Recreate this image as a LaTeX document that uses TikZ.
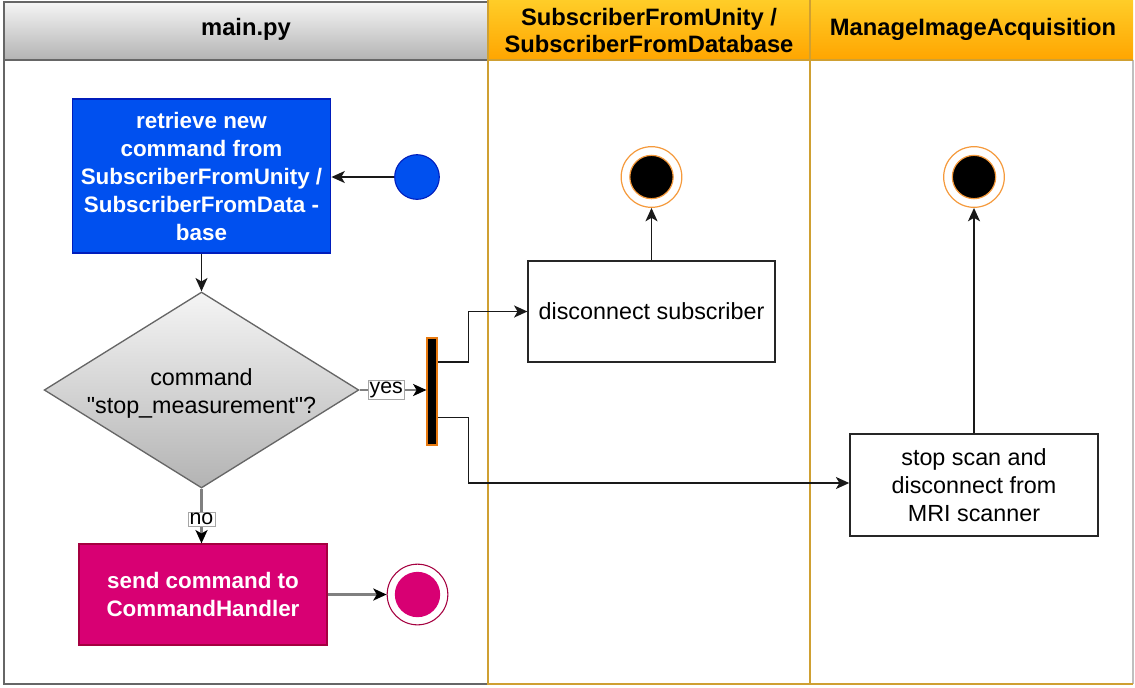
\documentclass[tikz,border=0pt]{standalone}
\usepackage{fontspec}
\setmainfont{Liberation Sans}
\usetikzlibrary{arrows.meta,shapes.geometric,calc}

\definecolor{laneGray}{HTML}{666666}
\definecolor{laneGold}{HTML}{CFA032}
\definecolor{headGrayTop}{HTML}{F5F5F5}
\definecolor{headGrayBot}{HTML}{B3B3B3}
\definecolor{headOrTop}{HTML}{FFCD28}
\definecolor{headOrBot}{HTML}{FFA500}
\definecolor{blueFill}{HTML}{0050EF}
\definecolor{blueLine}{HTML}{001DBC}
\definecolor{pinkFill}{HTML}{D80073}
\definecolor{pinkLine}{HTML}{A50040}
\definecolor{endOrange}{HTML}{F59A3C}
\definecolor{barOrange}{HTML}{E87A10}
\definecolor{edgeGray}{HTML}{808080}

\tikzset{
  >={Stealth[length=10pt,width=9pt,inset=2.6pt]},
  headtext/.style={font=\fontsize{17.8}{20.5}\selectfont\bfseries, align=center, inner sep=0pt},
  actfilled/.style={rectangle, draw, line width=0.9pt, text=white, align=center,
    font=\fontsize{16.8}{21}\selectfont\bfseries, inner sep=0pt},
  actplain/.style={rectangle, draw=black!85, fill=white, line width=1.1pt, align=center,
    font=\fontsize{17.5}{21}\selectfont, inner sep=0pt},
  decision/.style={diamond, draw=laneGray, line width=1pt, top color=headGrayTop,
    bottom color=headGrayBot, inner sep=0pt, minimum width=236pt, minimum height=147pt},
  edgeBlack/.style={draw=black!90, line width=1.3pt, ->},
  edgeGrayStyle/.style={draw=edgeGray, line width=1.8pt, -{Stealth[length=10pt,width=9pt,inset=2.6pt,color=black]}},
  edgelabel/.style={fill=white, draw=black!35, line width=0.5pt, inner sep=1.2pt,
    font=\fontsize{16}{18}\selectfont}
}

\begin{document}
\begin{tikzpicture}[x=0.75pt,y=-0.75pt]
\useasboundingbox (0,0) rectangle (1135,687);

% ---- swimlanes ----
% main.py
\path[top color=headGrayTop, bottom color=headGrayBot] (4,2) rectangle (488,60);
\draw[laneGray, line width=2pt] (4,2) rectangle (488,684);
\draw[laneGray, line width=2pt] (4,60) -- (488,60);
% SubscriberFromUnity / SubscriberFromDatabase
\path[top color=headOrTop, bottom color=headOrBot] (488,0) rectangle (810,60);
% ManageImageAcquisition
\path[top color=headOrTop, bottom color=headOrBot] (810,0) rectangle (1133,60);
\draw[black!25, line width=1pt] (1133,60) -- (1133,684);
\draw[laneGold, line width=2pt] (488,0) -- (488,684) -- (1133,684);
\draw[laneGold, line width=2pt] (810,0) -- (810,684);
\draw[laneGold, line width=1pt] (488,60) -- (1133,60);

\node[headtext] (hMain) at (246,29) {main.py};
\node[headtext] (hSub) at (649,30.5) {SubscriberFromUnity /\\SubscriberFromDatabase};
\node[headtext] (hMan) at (973,29) {ManageImageAcquisition};

% ---- main.py lane ----
\node[circle, fill=blueFill, draw=blueLine, line width=0.8pt, minimum size=33.5pt, inner sep=0pt]
  (start) at (417,177) {};
\node[actfilled, fill=blueFill, draw=blueLine, minimum width=194pt, minimum height=115.5pt]
  (retrieve) at (201.5,176)
  {retrieve new\\command from\\SubscriberFromUnity /\\SubscriberFromData -\\base};
\node[decision] (dec) at (201.5,390) {};
\node[align=center, font=\fontsize{17.5}{21}\selectfont, inner sep=0pt] (decText) at (201.5,393)
  {command\\\textquotedbl stop\_measurement\textquotedbl?};
\node[rectangle, fill=black, draw=barOrange, line width=1.3pt, minimum width=7pt,
  minimum height=80pt, inner sep=0pt] (fork) at (432,391.5) {};
\node[actfilled, fill=pinkFill, draw=pinkLine, minimum width=186pt, minimum height=75.75pt]
  (send) at (203,594.5) {send command to\\CommandHandler};
\node[circle, draw=pinkLine, fill=white, line width=0.8pt, minimum size=45.5pt, inner sep=0pt]
  (endMain) at (417.5,594.5) {};
\node[circle, fill=pinkFill, minimum size=34pt, inner sep=0pt] (endMainCore) at (endMain.center) {};

% ---- subscriber lane ----
\node[actplain, minimum width=185pt, minimum height=75.75pt] (disc) at (651.5,311.5)
  {disconnect subscriber};
\node[circle, draw=endOrange, fill=white, line width=0.9pt, minimum size=45.5pt, inner sep=0pt]
  (endSub) at (651.5,177) {};
\node[circle, fill=black, draw=endOrange, line width=0.9pt, minimum size=32.5pt, inner sep=0pt]
  (endSubCore) at (endSub.center) {};

% ---- image acquisition lane ----
\node[actplain, minimum width=186pt, minimum height=76.5pt] (stop) at (974,485)
  {stop scan and\\disconnect from\\MRI scanner};
\node[circle, draw=endOrange, fill=white, line width=0.9pt, minimum size=45.5pt, inner sep=0pt]
  (endMan) at (974,177) {};
\node[circle, fill=black, draw=endOrange, line width=0.9pt, minimum size=32.5pt, inner sep=0pt]
  (endManCore) at (endMan.center) {};

% ---- connectors ----
\coordinate (forkA) at ($(fork.north east)!0.23!(fork.south east)$);
\coordinate (forkB) at ($(fork.north east)!0.74!(fork.south east)$);

\draw[edgeBlack] (start.west) -- (start.west -| retrieve.east);
\draw[edgeBlack] (retrieve.south) -- (retrieve.south |- dec.north);
\draw[edgeGrayStyle] (dec.east) -- node[edgelabel, pos=0.4] (yesLbl) {yes} (dec.east -| fork.west);
\draw[edgeBlack] (forkA) -- ++(31,0) |- (disc.west);
\draw[edgeBlack] (forkB) -- ++(31,0) |- ($(stop.west)+(0,-2)$);
\draw[edgeBlack] (disc.north) -- (disc.north |- endSub.south);
\draw[edgeBlack] (stop.north) -- (stop.north |- endMan.south);
\draw[edgeGrayStyle] (dec.south) -- node[edgelabel, pos=0.56] (noLbl) {no} (dec.south |- send.north);
\draw[edgeGrayStyle] (send.east) -- (send.east -| endMain.west);
\end{tikzpicture}
\end{document}
